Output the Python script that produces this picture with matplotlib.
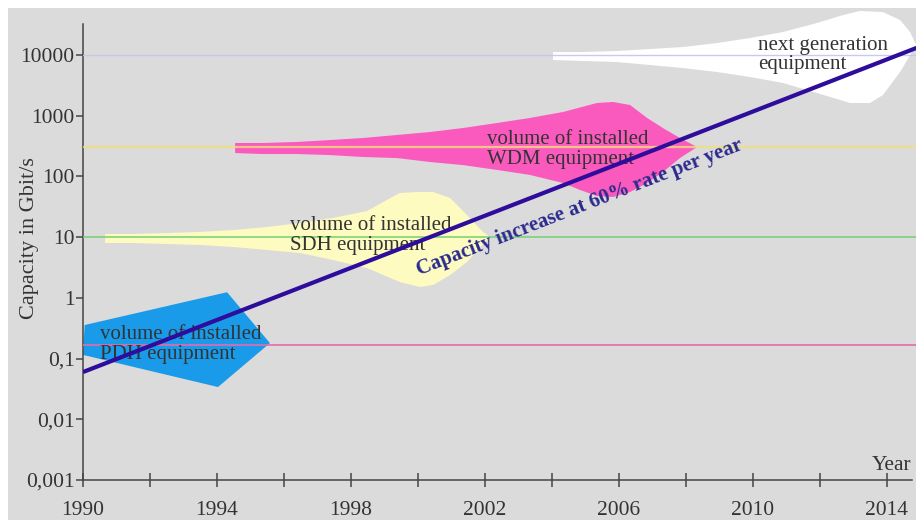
import matplotlib
matplotlib.use("Agg")
import matplotlib.pyplot as plt
import numpy as np
from matplotlib.patches import Rectangle
from matplotlib.ticker import FixedLocator, FixedFormatter, NullFormatter

# ---------------- data ----------------
year_ticks = [1990, 1994, 1998, 2002, 2006, 2010, 2014]
year_minor = [1992, 1996, 2000, 2004, 2008, 2012]
cap_ticks = [0.001, 0.01, 0.1, 1, 10, 100, 1000, 10000]
cap_labels = ["0,001", "0,01", "0,1", "1", "10", "100", "1000", "10000"]

trend_years = [1990, 2015]
trend_capacity = [0.06, 13900]

pdh_years = [1990.05, 1994.3, 1995.58, 1994.03, 1990.0]
pdh_capacity = [0.357, 1.24, 0.18, 0.034, 0.115]

sdh_years = [1990.66, 1991.49, 1992.51, 1993.49, 1994.48, 1995.49, 1996.48, 1997.46, 1998.48,
             1999.07, 1999.46, 1999.97, 2000.45, 2000.96, 2001.46, 2001.94, 2002.15,
             2001.46, 2000.96, 2000.45, 2000.06, 1999.46, 1998.48, 1997.46, 1996.48,
             1995.49, 1994.48, 1993.49, 1991.49, 1990.66]
sdh_capacity = [11.3, 11.3, 11.7, 12.2, 13.1, 14.7, 17.1, 20.7, 27.0,
                40.9, 53.4, 55.4, 55.4, 44.2, 23.2, 12.2, 10.1,
                3.9, 2.38, 1.63, 1.51, 1.82, 3.1, 4.21, 5.48,
                6.15, 6.89, 7.43, 8.02, 8.02]

wdm_years = [1994.54, 1995.37, 1996.39, 1997.37, 1998.36, 1999.37, 2000.36, 2001.34, 2002.36,
             2003.34, 2004.33, 2005.34, 2005.82, 2006.33, 2006.84, 2007.31, 2007.82, 2008.33,
             2007.82, 2007.31, 2006.84, 2006.33, 2005.82, 2005.34, 2004.84, 2004.33, 2003.34,
             2002.36, 2001.34, 2000.36, 1999.37, 1998.36, 1997.37, 1996.39, 1995.37, 1994.54]
wdm_capacity = [356, 356, 370, 398, 430, 482, 540, 628, 760,
                919, 1153, 1622, 1687, 1504, 919, 628, 430, 305,
                201, 118, 78, 55.4, 45.9, 47.7, 59.8, 78, 106,
                128, 154, 173, 201, 209, 225, 234, 234, 243]

ngen_years = [2004.03, 2004.93, 2005.94, 2006.93, 2007.91, 2008.93, 2009.91, 2010.90, 2011.91,
              2012.69, 2013.19, 2013.88, 2014.39, 2014.69, 2014.87,
              2014.39, 2013.88, 2013.49, 2012.90, 2011.91, 2010.90, 2009.91, 2008.93,
              2007.91, 2006.93, 2005.94, 2004.93, 2004.03]
ngen_capacity = [11220, 11220, 11650, 12570, 13550, 15770, 19070, 23950, 33700,
                 45650, 53100, 51100, 37760, 23950, 14620,
                 5250, 2197, 1622, 1622, 2372, 3461, 4350, 5250,
                 6110, 6850, 7670, 7980, 8280]

level_values = [10000, 310, 10, 0.17]
level_colors = ["#c5c5ee", "#f2e07a", "#72d072", "#e46cae"]
level_widths = [1.0, 1.6, 1.2, 1.2]

shape_colors = {"pdh": "#1a9bea", "sdh": "#fdfbbf", "wdm": "#fa5abe", "ngen": "#ffffff"}

label_texts = ["volume of installed\nPDH equipment",
               "volume of installed\nSDH equipment",
               "volume of installed\nWDM equipment",
               "next generation\nequipment"]
label_years = [1990.5, 1996.18, 2002.06, 2010.15]
label_caps = [0.17, 10.6, 278, 10000]

# ---------------- figure ----------------
W, H = 916, 520
fig = plt.figure(figsize=(W / 100, H / 100), dpi=100)
fig.patch.set_facecolor("white")
fig.add_artist(Rectangle((8 / W, 0), 1, (H - 8) / H, transform=fig.transFigure,
                         facecolor="#dbdbdb", edgecolor="none", zorder=-10))

ax = fig.add_axes([83 / W, 40 / H, (W - 83) / W, (480 - 8) / H])
ax.set_facecolor("none")
ax.set_yscale("log")
ax.set_xlim(1990, 2014.866)
ax.set_ylim(0.001, 59550)

serif = ["Liberation Serif", "DejaVu Serif"]
txtc = "#333333"
axc = "#444444"

# shapes
ax.fill(pdh_years, pdh_capacity, color=shape_colors["pdh"], lw=0, zorder=2)
ax.fill(sdh_years, sdh_capacity, color=shape_colors["sdh"], lw=0, zorder=2)
ax.fill(wdm_years, wdm_capacity, color=shape_colors["wdm"], lw=0, zorder=2)
ax.fill(ngen_years, ngen_capacity, color=shape_colors["ngen"], lw=0, zorder=2)

# level lines
alphas = [0.9, 0.8, 0.9, 1.0]
for v, c, w, a in zip(level_values, level_colors, level_widths, alphas):
    ax.axhline(v, color=c, lw=w, alpha=a, zorder=3)

# labels
for t, x, y in zip(label_texts, label_years, label_caps):
    ax.text(x, y, t, ha="left", va="center", fontsize=15, family=serif,
            color=txtc, linespacing=1.05, zorder=4)

# trend line
ax.plot(trend_years, trend_capacity, color="#2e0c9c", lw=3.0, zorder=5,
        solid_capstyle="butt")

p1 = ax.transData.transform((trend_years[0], trend_capacity[0]))
p2 = ax.transData.transform((trend_years[1], trend_capacity[1]))
angle = np.degrees(np.arctan2(p2[1] - p1[1], p2[0] - p1[0]))
ax.text(2004.84, 30.2, "Capacity increase at 60% rate per year", rotation=angle,
        rotation_mode="anchor", ha="center", va="center", fontsize=15,
        fontweight="bold", family=serif, color="#2a2a8e", zorder=6)

# axes styling
for s in ["top", "right"]:
    ax.spines[s].set_visible(False)
for s in ["left", "bottom"]:
    ax.spines[s].set_color(axc)
    ax.spines[s].set_linewidth(1.1)
ax.spines["left"].set_bounds(0.001, 32400)
ax.spines["bottom"].set_bounds(1990, 2014.75)

ax.xaxis.set_major_locator(FixedLocator(year_ticks))
ax.xaxis.set_minor_locator(FixedLocator(year_minor))
ax.xaxis.set_minor_formatter(NullFormatter())
ax.set_xticklabels([str(y) for y in year_ticks])
ax.yaxis.set_major_locator(FixedLocator(cap_ticks))
ax.yaxis.set_major_formatter(FixedFormatter(cap_labels))
ax.yaxis.set_minor_locator(FixedLocator([]))

ax.tick_params(axis="x", which="both", direction="inout", length=10, width=1.1,
               color=axc, pad=10, labelsize=15.5, labelcolor=txtc)
ax.tick_params(axis="y", which="major", direction="out", length=5, width=1.1,
               color=axc, pad=1, labelsize=15.5, labelcolor=txtc)
for lab in ax.get_xticklabels() + ax.get_yticklabels():
    lab.set_family(serif)

fig.text(30 / W, 1 - 238 / H, "Capacity in Gbit/s", rotation=90, ha="center",
         va="center", fontsize=16, family=serif, color=txtc)
fig.text(911 / W, 1 - 466 / H, "Year", ha="right", va="center", fontsize=15.5,
         family=serif, color=txtc)

fig.savefig("out.png", dpi=100, facecolor=fig.get_facecolor())
